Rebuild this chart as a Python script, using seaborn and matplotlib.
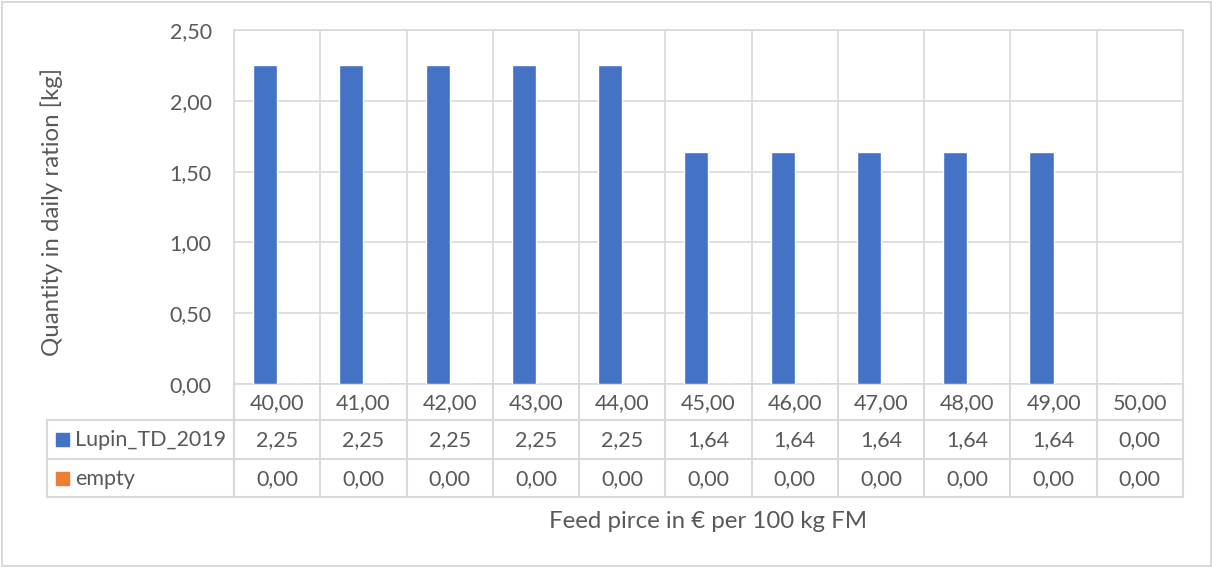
import numpy as np
import pandas as pd
import seaborn as sns
import matplotlib.pyplot as plt
from matplotlib.transforms import blended_transform_factory
from matplotlib.patches import Rectangle

# Feed price scenarios and resulting ration quantities
prices = [40.0, 41.0, 42.0, 43.0, 44.0, 45.0, 46.0, 47.0, 48.0, 49.0, 50.0]
lupin_td_2019 = [2.25, 2.25, 2.25, 2.25, 2.25, 1.64, 1.64, 1.64, 1.64, 1.64, 0.00]
empty = [0.00, 0.00, 0.00, 0.00, 0.00, 0.00, 0.00, 0.00, 0.00, 0.00, 0.00]
series_names = ["Lupin_TD_2019", "empty"]
series_colors = ["#4472C4", "#ED7D31"]
y_ticks = [0.0, 0.5, 1.0, 1.5, 2.0, 2.5]


def fmt(v):
    return f"{v:.2f}".replace(".", ",")


price_labels = [fmt(p) for p in prices]
df = pd.DataFrame({
    "price": price_labels * 2,
    "value": lupin_td_2019 + empty,
    "series": [series_names[0]] * len(prices) + [series_names[1]] * len(prices),
})

sns.set_theme(style="white")
plt.rcParams["font.family"] = ["Lato", "DejaVu Sans"]
TXT = "#595959"
GRID = "#D9D9D9"
FS = 15.5
FS_TITLE = 17.3

W, H = 1212, 567
fig = plt.figure(figsize=(W / 100, H / 100), dpi=100)
fig.patch.set_facecolor("white")

# pixel layout of the plot area
L, R, T, B = 234, 1183, 30, 384
ax = fig.add_axes([L / W, 1 - B / H, (R - L) / W, (B - T) / H])

sns.barplot(data=df, x="price", y="value", hue="series", order=price_labels,
            hue_order=series_names, palette=series_colors, width=0.56,
            saturation=1, legend=False, ax=ax, zorder=3)

n = len(prices)
ax.set_xlim(-0.5, n - 0.5)
ax.set_ylim(0, 2.5)
ax.set_yticks(y_ticks)
ax.set_yticklabels([fmt(v) for v in y_ticks], color=TXT, fontsize=FS)
ax.tick_params(axis="y", length=0, pad=16)
ax.set_xticks(np.arange(-0.5, n, 1.0), minor=True)
ax.set_xticks([])
ax.tick_params(axis="x", which="both", length=0)
ax.grid(axis="y", which="major", color=GRID, lw=1.2, zorder=0)
ax.grid(axis="x", which="minor", color=GRID, lw=1.2, zorder=0)
ax.set_axisbelow(True)
ax.set_xlabel("")
ax.set_ylabel("")
for s in ax.spines.values():
    s.set_color(GRID)
    s.set_linewidth(1.2)

# overlay in pixel coordinates for the data table and chart frame
ov = fig.add_axes([0, 0, 1, 1], zorder=5)
ov.set_xlim(0, W)
ov.set_ylim(H, 0)
ov.axis("off")
ov.patch.set_alpha(0)

# chart frame
ov.add_patch(Rectangle((1.5, 1.5), W - 3, H - 3, fill=False, ec=GRID, lw=1.5))

tr = blended_transform_factory(ax.transData, ov.transData)

row_y = [384, 420, 459, 497]
table_left = 47
# horizontal table lines
for y in row_y[1:]:
    ov.plot([table_left, R], [y, y], color=GRID, lw=1.5, zorder=1)
ov.plot([table_left, table_left], [row_y[1], row_y[3]], color=GRID, lw=1.5)
ov.plot([L, L], [row_y[0], row_y[3]], color=GRID, lw=1.5)
# vertical column separators aligned with the categories
for i in range(n + 1):
    ov.plot([i - 0.5, i - 0.5], [row_y[0], row_y[3]], color=GRID, lw=1.5,
            transform=tr)

# table contents
rows = [price_labels, [fmt(v) for v in lupin_td_2019], [fmt(v) for v in empty]]
for r, labels in enumerate(rows):
    yc = (row_y[r] + row_y[r + 1]) / 2 + 1
    for i, lab in enumerate(labels):
        ov.text(i, yc, lab, transform=tr, ha="center", va="center",
                color=TXT, fontsize=FS)

# series legend keys
for k, (name, col) in enumerate(zip(series_names, series_colors)):
    yc = (row_y[k + 1] + row_y[k + 2]) / 2
    ov.add_patch(Rectangle((56, yc - 6.5), 13, 13, color=col))
    ov.text(75, yc + 1, name, ha="left", va="center", color=TXT, fontsize=FS)

# axis titles
ov.text(52, 212, "Quantity in daily ration [kg]", rotation=90,
        ha="center", va="center", color=TXT, fontsize=FS_TITLE)
ov.text(708, 521, "Feed pirce in € per 100 kg FM", ha="center",
        va="center", color=TXT, fontsize=FS_TITLE)

fig.savefig("out.png", dpi=100, facecolor="white")
